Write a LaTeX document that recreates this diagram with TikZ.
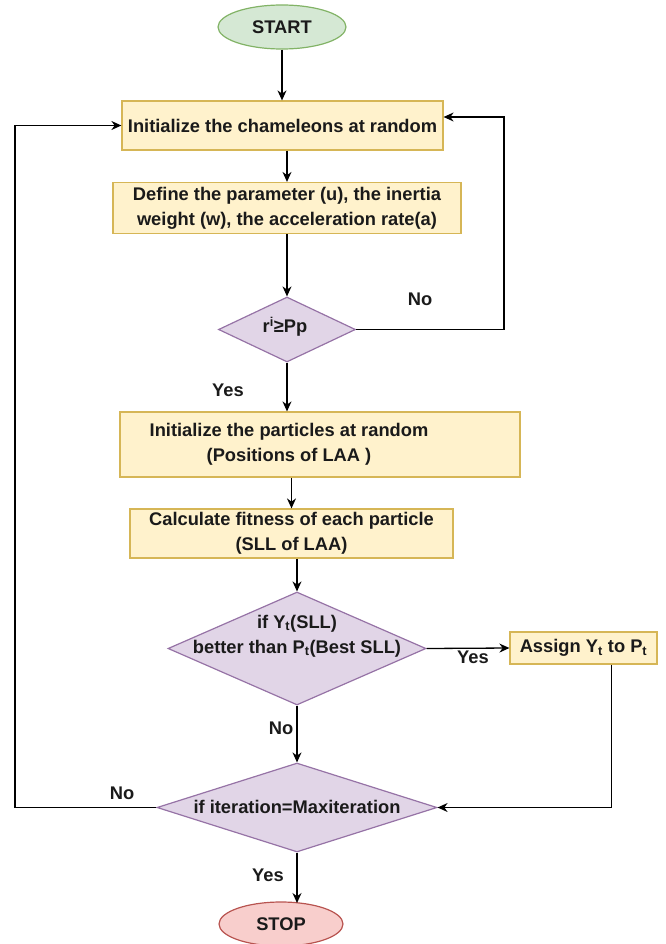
\documentclass[tikz,border=0pt]{standalone}
\usepackage{fontspec}
\setmainfont{Liberation Sans}
\usetikzlibrary{shapes.geometric,arrows.meta,calc}
\definecolor{yfill}{HTML}{FFF2CC}
\definecolor{ydraw}{HTML}{D6B656}
\definecolor{pfill}{HTML}{E1D5E7}
\definecolor{pdraw}{HTML}{9673A6}
\definecolor{gfill}{HTML}{D5E8D4}
\definecolor{gdraw}{HTML}{82B366}
\definecolor{rfill}{HTML}{F8CECC}
\definecolor{rdraw}{HTML}{B85450}
\definecolor{txt}{HTML}{1A1A1A}
\begin{document}
\begin{tikzpicture}[x=1pt,y=-1pt,
  every node/.style={font=\fontsize{18.3}{25}\selectfont\bfseries, text=txt, inner sep=0pt},
  procbox/.style={rectangle, draw=ydraw, fill=yfill, line width=1.2pt, align=center},
  decbox/.style={diamond, draw=pdraw, fill=pfill, line width=1.2pt, align=center},
  termbox/.style={ellipse, line width=1.2pt, align=center},
  arr/.style={-{Stealth[length=10pt,width=9pt]}, line width=1.3pt, black},
  plain/.style={line width=1.3pt, black}]
\useasboundingbox (0,0) rectangle (665,944);

\node[termbox, draw=gdraw, fill=gfill, minimum width=128, minimum height=44] (start) at (282,27) {START};
\node[procbox, minimum width=321, minimum height=49] (init) at (282.5,125.5) {Initialize the chameleons at random};
\node[procbox, minimum width=348, minimum height=51] (define) at (287,208) {Define the parameter (u), the inertia\\weight (w), the acceleration rate(a)};
\node[decbox, minimum width=137, minimum height=65] (d1) at (287,329.5) {};
\node (d1t) at (285,327) {r\textsuperscript{i}≥Pp};
\node[procbox, minimum width=400, minimum height=65] (part) at (320,444.5) {};
\node[align=center] (partt) at (289,444.5) {Initialize the particles at random\\(Positions of LAA )};
\node[procbox, minimum width=323, minimum height=49] (fit) at (291.5,533.5) {Calculate fitness of each particle\\(SLL of LAA)};
\node[decbox, minimum width=258, minimum height=113] (d2) at (297,648.5) {};
\node[align=center] (d2t) at (297,636) {if Y\textsubscript{t}(SLL)\\better than P\textsubscript{t}(Best SLL)};
\node[procbox, minimum width=147, minimum height=32] (assign) at (583.5,648) {Assign Y\textsubscript{t} to P\textsubscript{t}};
\node[decbox, minimum width=280, minimum height=89] (d3) at (297,807.5) {};
\node (d3t) at (297,807) {if iteration=Maxiteration};
\node[termbox, draw=rdraw, fill=rfill, minimum width=124, minimum height=44] (stop) at (281,924) {STOP};

\coordinate (nr) at (504,117);
\coordinate (nl) at (15,125.5);
\coordinate (stopin) at (297,903);

\draw[arr] (start) -- (start |- init.north);
\draw[arr] (define.north |- init.south) -- (define.north);
\draw[arr] (define) -- (d1);
\draw[arr] (d1.east) -| (nr) -- (init.east |- nr);
\draw[arr] (d1.south) -- (d1.south |- part.north);
\draw[arr] (fit.north |- part.south) -- (fit.north);
\draw[arr] (d2.north |- fit.south) -- (d2.north);
\draw[arr] (d2.east) -- (assign.west);
\draw[arr] ([xshift=28]assign.south) |- (d3.east);
\draw[arr] (d2.south) -- (d3.north);
\draw[arr] (d3.west) -| (nl) -- (init.west);
\draw[arr] (d3.south) -- (stopin);

\node (lno1) at (420,299) {No};
\node (lyes1) at (228,390) {Yes};
\node (lyes2) at (473,657) {Yes};
\node (lno2) at (281,728) {No};
\node (lno3) at (122,793) {No};
\node (lyes3) at (268,875) {Yes};
\end{tikzpicture}
\end{document}
